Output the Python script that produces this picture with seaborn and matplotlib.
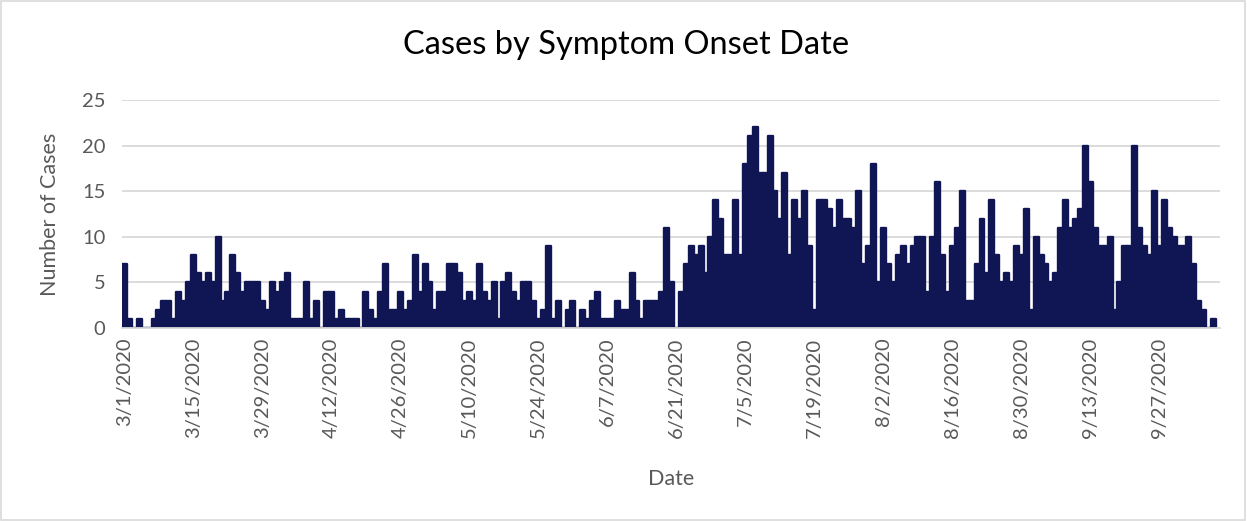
import matplotlib
matplotlib.use("Agg")
import matplotlib.pyplot as plt
import seaborn as sns
import pandas as pd

# daily case counts by symptom onset, starting 3/1/2020
start_date = "2020-03-01"
cases = [
    7, 1, 0, 1, 0, 0, 1, 2, 3, 3, 1, 4, 3, 5, 8, 6, 5, 6, 5, 10,
    3, 4, 8, 6, 4, 5, 5, 5, 3, 2, 5, 4, 5, 6, 1, 1, 1, 5, 1, 3,
    0, 4, 4, 1, 2, 1, 1, 1, 0, 4, 2, 1, 4, 7, 2, 2, 4, 2, 3, 8,
    4, 7, 5, 2, 4, 4, 7, 7, 6, 3, 4, 3, 7, 4, 3, 5, 1, 5, 6, 4,
    3, 5, 5, 3, 1, 2, 9, 1, 3, 0, 2, 3, 0, 2, 1, 3, 4, 1, 1, 1,
    3, 2, 2, 6, 3, 1, 3, 3, 3, 4, 11, 5, 0, 4, 7, 9, 8, 9, 6, 10,
    14, 12, 8, 8, 14, 8, 18, 21, 22, 17, 17, 21, 15, 12, 17, 8, 14, 12, 15, 9,
    2, 14, 14, 13, 11, 14, 12, 12, 11, 15, 7, 9, 18, 5, 11, 7, 5, 8, 9, 7,
    9, 10, 10, 4, 10, 16, 8, 4, 9, 11, 15, 3, 3, 7, 12, 6, 14, 8, 5, 6,
    5, 9, 8, 13, 2, 10, 8, 7, 5, 6, 11, 14, 11, 12, 13, 20, 16, 11, 9, 9,
    10, 2, 5, 9, 9, 20, 11, 9, 8, 15, 9, 14, 11, 10, 9, 9, 10, 7, 3, 2,
    0, 1,
]
tick_labels = [
    "3/1/2020", "3/15/2020", "3/29/2020", "4/12/2020", "4/26/2020",
    "5/10/2020", "5/24/2020", "6/7/2020", "6/21/2020", "7/5/2020",
    "7/19/2020", "8/2/2020", "8/16/2020", "8/30/2020", "9/13/2020",
    "9/27/2020",
]

df = pd.DataFrame({
    "date": pd.date_range(start_date, periods=len(cases)),
    "cases": cases,
})
df["day"] = range(len(df))

sns.set_style("white")
plt.rcParams["font.family"] = ["Lato", "DejaVu Sans"]

bar_color = "#0F1653"
grid_color = "#D9D9D9"
text_color = "#595959"

fig = plt.figure(figsize=(12.47, 5.21), dpi=100)
ax = fig.add_axes([122 / 1247, 1 - 328 / 521, 1098 / 1247, 228 / 521])

sns.barplot(data=df, x="day", y="cases", color=bar_color, saturation=1,
            width=1, edgecolor=bar_color, linewidth=1.7, errorbar=None, ax=ax)
for p in ax.patches:
    p.set_joinstyle("round")
    p.set_capstyle("round")

ax.set_ylim(0, 25)
ax.set_yticks(range(0, 26, 5))
ax.set_xlim(-0.5, len(cases) + 0.3)

# labels sit on the bar, tick marks on the left edge of it
tick_pos = [14 * i for i in range(len(tick_labels))]
ax.set_xticks(tick_pos)
ax.set_xticklabels(tick_labels, rotation=90, fontsize=14.5, color=text_color)
ax.set_xticks([t - 0.5 for t in tick_pos], minor=True)
ax.tick_params(axis="x", which="major", length=0, pad=7)
ax.tick_params(axis="x", which="minor", length=6, width=1.2, color=grid_color)
ax.tick_params(axis="y", length=0, labelsize=14.5, labelcolor=text_color, pad=12)

ax.yaxis.grid(True, color=grid_color, linewidth=1.3)
ax.set_axisbelow(True)
for side in ["left", "right", "top"]:
    ax.spines[side].set_visible(False)
ax.spines["bottom"].set_color(grid_color)
ax.spines["bottom"].set_linewidth(1.3)

ax.set_xlabel("Date", fontsize=15.5, color=text_color, labelpad=22)
ax.set_ylabel("Number of Cases", fontsize=15.5, color=text_color, labelpad=16)
fig.suptitle("Cases by Symptom Onset Date", fontsize=23.5, color="black",
             x=626 / 1247, y=1 - 45 / 521, va="center")

fig.patches.append(plt.Rectangle((0.001, 0.002), 0.997, 0.996, transform=fig.transFigure,
                                 fill=False, edgecolor=grid_color, linewidth=1.2))

fig.savefig("out.png", dpi=100)
